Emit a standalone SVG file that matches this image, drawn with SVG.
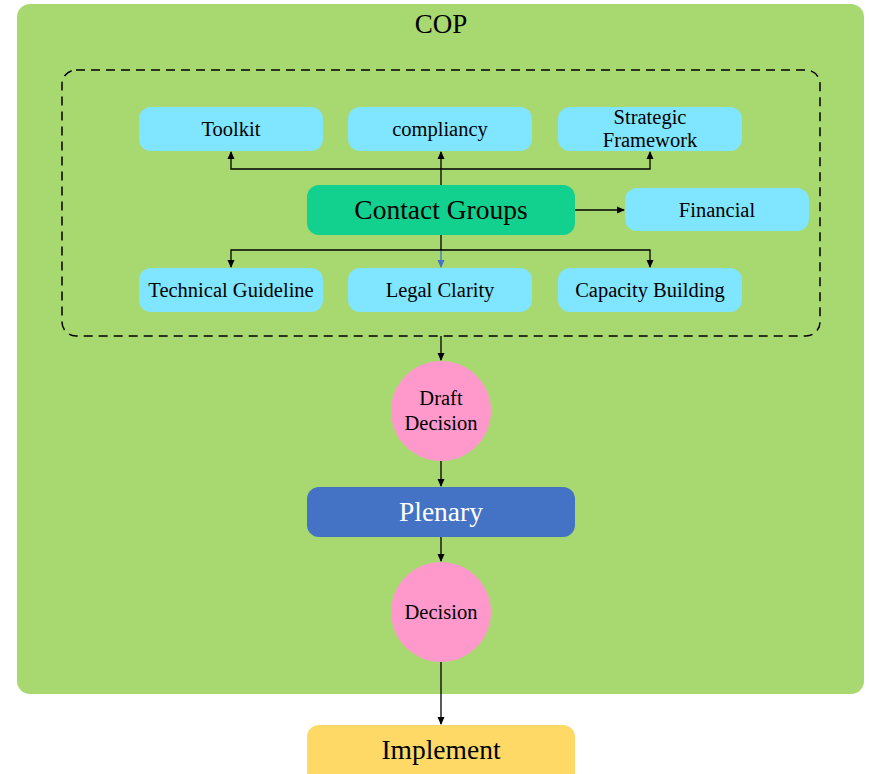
<svg xmlns="http://www.w3.org/2000/svg" width="869" height="774" viewBox="0 0 869 774" font-family="'Liberation Serif', 'Times New Roman', 'DejaVu Serif', serif">
<style>
text{font-family:'Liberation Serif','Times New Roman','DejaVu Serif',serif;text-anchor:middle;fill:#000}
.sm{font-size:20.5px}
.lg{font-size:27.5px}
.box{fill:#80E5FF}
.circ{fill:#FF99CC}
.ln{stroke:#000;stroke-width:1.3;fill:none}
</style>
<defs>
<marker id="ah" markerWidth="8" markerHeight="8" refX="7" refY="4" orient="auto" markerUnits="userSpaceOnUse"><path d="M0,0.5 L8,4 L0,7.5 Z" fill="#000"/></marker>
<marker id="ahb" markerWidth="8" markerHeight="8" refX="7" refY="4" orient="auto" markerUnits="userSpaceOnUse"><path d="M0,0.5 L8,4 L0,7.5 Z" fill="#4472C4"/></marker>
</defs>
<rect width="869" height="774" fill="#fff"/>
<g id="cop">
<rect x="17" y="4" width="847" height="690" rx="13" fill="#A8D971"/>
<text x="441" y="33" class="lg" style="font-size:27px">COP</text>
</g>
<g id="contact-area">
<rect x="62" y="70" width="758" height="266" rx="14" fill="none" stroke="#000" stroke-width="1.5" stroke-dasharray="9,6"/>
</g>
<g id="connectors">
<path class="ln" d="M441,185 V152" marker-end="url(#ah)"/>
<path class="ln" d="M441,169 H231 V152" marker-end="url(#ah)"/>
<path class="ln" d="M441,169 H650 V152" marker-end="url(#ah)"/>
<path class="ln" d="M575,210 H624" marker-end="url(#ah)"/>
<path class="ln" d="M441,235 V250"/>
<path d="M441,250 V267" stroke="#4472C4" stroke-width="1.3" fill="none" marker-end="url(#ahb)"/>
<path class="ln" d="M441,250 H231 V267" marker-end="url(#ah)"/>
<path class="ln" d="M441,250 H650 V267" marker-end="url(#ah)"/>
<path class="ln" d="M441,336 V360" marker-end="url(#ah)"/>
<path class="ln" d="M441,461 V486" marker-end="url(#ah)"/>
<path class="ln" d="M441,537 V561" marker-end="url(#ah)"/>
<path class="ln" d="M441,662 V724" marker-end="url(#ah)"/>
</g>
<g id="toolkit"><rect class="box" x="139" y="107" width="184" height="44" rx="12"/><text x="231" y="136" class="sm">Toolkit</text></g>
<g id="compliancy"><rect class="box" x="348" y="107" width="184" height="44" rx="12"/><text x="440" y="136" class="sm">compliancy</text></g>
<g id="strategic"><rect class="box" x="558" y="107" width="184" height="44" rx="12"/><text x="650" y="124" class="sm">Strategic</text><text x="650" y="147" class="sm">Framework</text></g>
<g id="contact-groups"><rect x="307" y="185" width="268" height="50" rx="12" fill="#12D18E"/><text x="441" y="219" class="lg">Contact Groups</text></g>
<g id="financial"><rect class="box" x="625" y="188" width="184" height="43" rx="12"/><text x="717" y="217" class="sm">Financial</text></g>
<g id="technical"><rect class="box" x="139" y="268" width="184" height="44" rx="12"/><text x="231" y="297" class="sm">Technical Guideline</text></g>
<g id="legal"><rect class="box" x="348" y="268" width="184" height="44" rx="12"/><text x="440" y="297" class="sm">Legal Clarity</text></g>
<g id="capacity"><rect class="box" x="558" y="268" width="184" height="44" rx="12"/><text x="650" y="297" class="sm">Capacity Building</text></g>
<g id="draft-decision"><circle class="circ" cx="441" cy="411" r="50"/><text x="441" y="405" class="sm">Draft</text><text x="441" y="430" class="sm">Decision</text></g>
<g id="plenary"><rect x="307" y="487" width="268" height="50" rx="12" fill="#4472C4"/><text x="441" y="521" class="lg" style="fill:#fff">Plenary</text></g>
<g id="decision"><circle class="circ" cx="441" cy="612" r="50"/><text x="441" y="619" class="sm">Decision</text></g>
<g id="implement"><rect x="307" y="725" width="268" height="60" rx="12" fill="#FFD966"/><text x="441" y="759" class="lg">Implement</text></g>
</svg>
